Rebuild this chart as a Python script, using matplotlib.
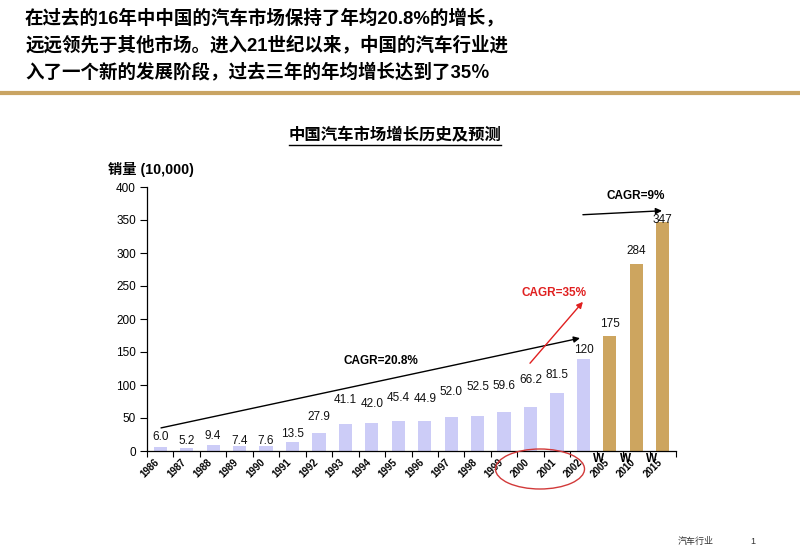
import matplotlib
matplotlib.use("Agg")
import matplotlib.pyplot as plt
from matplotlib.patches import Ellipse
from matplotlib.lines import Line2D
import matplotlib.transforms as mtransforms

# ---------------- data ----------------
years = ["1986", "1987", "1988", "1989", "1990", "1991", "1992", "1993", "1994",
         "1995", "1996", "1997", "1998", "1999", "2000", "2001", "2002",
         "2005", "2010", "2015"]
sales = [6.0, 5.2, 9.4, 7.4, 7.6, 13.5, 27.9, 41.1, 42.0, 45.4, 44.9, 52.0,
         52.5, 59.6, 66.2, 88.0, 139.0, 175, 284, 347]
value_labels = ["6.0", "5.2", "9.4", "7.4", "7.6", "13.5", "27.9", "41.1", "42.0",
                "45.4", "44.9", "52.0", "52.5", "59.6", "66.2", "81.5", "120",
                "175", "284", "347"]
is_forecast = [False] * 17 + [True] * 3
y_ticks = [0, 50, 100, 150, 200, 250, 300, 350, 400]

# label pixel positions (layout only) -> vertical pixel of label centre
label_px = [437, 441, 436, 441, 441, 434, 417, 400, 404, 398, 399, 392, 387,
            386, 380, 375, 350, 324, 251, 220]

HIST = "#CCCCF7"
FCST = "#CDA55F"
GOLD = "#C9A463"

W, H = 800, 553
fig = plt.figure(figsize=(W / 100, H / 100), dpi=100)
fig.patch.set_facecolor("white")

lat_cjk = ["Liberation Sans", "Noto Sans CJK SC"]

# ---------------- header ----------------
header = ["在过去的16年中中国的汽车市场保持了年均20.8%的增长，",
          "远远领先于其他市场。进入21世纪以来，中国的汽车行业进",
          "入了一个新的发展阶段，过去三年的年均增长达到了35％"]
for i, line in enumerate(header):
    fig.text(25 / W, 1 - (18 + i * 27) / H, line, family=lat_cjk, fontsize=13.3,
             fontweight="bold", ha="left", va="center", color="black")
fig.add_artist(Line2D([0, 1], [1 - 93 / H, 1 - 93 / H], color=GOLD, lw=3,
                      transform=fig.transFigure))

# ---------------- axes ----------------
ax = fig.add_axes([147 / W, 1 - 451 / H, (676 - 147) / W, (451 - 187) / H])
x = list(range(len(years)))
colors = [FCST if f else HIST for f in is_forecast]
ax.bar(x, sales, width=0.5, color=colors, edgecolor="none", zorder=2)
ax.set_xlim(-0.5, len(years) - 0.5)
ax.set_ylim(0, 400)
ax.set_yticks(y_ticks)
ax.set_yticklabels([str(v) for v in y_ticks], family="Liberation Sans", fontsize=8.5)
ax.tick_params(axis="y", direction="out", length=5, width=0.8, pad=3)
for s in ["top", "right"]:
    ax.spines[s].set_visible(False)
for s in ["left", "bottom"]:
    ax.spines[s].set_linewidth(0.9)

# x ticks at category boundaries, labels at centres
ax.set_xticks([i - 0.5 for i in range(len(years) + 1)])
ax.set_xticklabels([])
ax.tick_params(axis="x", direction="out", length=4, width=0.8)
ax.set_xticks(x, minor=True)
ax.set_xticklabels(years, minor=True, rotation=45, ha="right", va="top",
                   rotation_mode="anchor", family="Liberation Sans", fontsize=7,
                   fontweight="bold")
ax.tick_params(axis="x", which="minor", length=0, pad=4)
offset = mtransforms.ScaledTranslation(-6 / 100, 0, fig.dpi_scale_trans)
for lab in ax.get_xticklabels(minor=True):
    lab.set_transform(lab.get_transform() + offset)

# value labels
for xi, lab, py in zip(x, value_labels, label_px):
    ax.text(xi, (451 - py) * 400 / 264, lab, ha="center", va="center",
            family="Liberation Sans", fontsize=8.5, color="#111111", zorder=4)

# W marks under forecast bars
for xi, f in zip(x, is_forecast):
    if f:
        ax.text(xi - 0.42, -3, "W", ha="center", va="top", family="Liberation Sans",
                fontsize=8.5, fontweight="bold", clip_on=False)

# CAGR arrows
ap = dict(arrowstyle="-|>", color="black", lw=1.0, mutation_scale=9,
          shrinkA=0, shrinkB=0)
ax.annotate("", xy=(15.87, 171), xytext=(0.03, 35), arrowprops=ap, zorder=3)
ax.text(8.35, 136, "CAGR=20.8%", ha="center", va="center", family="Liberation Sans",
        fontsize=8.5, fontweight="bold")
apr = dict(ap, color="#E02020")
ax.annotate("", xy=(15.98, 226), xytext=(13.98, 133), arrowprops=apr, zorder=3)
ax.text(14.89, 239, "CAGR=35%", ha="center", va="center", family="Liberation Sans",
        fontsize=8.5, fontweight="bold", color="#E02020")
ax.annotate("", xy=(18.97, 364), xytext=(15.98, 358), arrowprops=ap, zorder=3,
            annotation_clip=False)
ax.text(17.99, 386, "CAGR=9%", ha="center", va="center", family="Liberation Sans",
        fontsize=8.5, fontweight="bold")

# red ellipse around 2000-2002 labels (figure pixels)
ell = Ellipse((540 / W, 1 - 469 / H), 89 / W, 40 / H, transform=fig.transFigure,
              fill=False, edgecolor="#D23A3A", lw=1.0)
fig.add_artist(ell)

# ---------------- titles ----------------
t = fig.text(395 / W, 1 - 135 / H, "中国汽车市场增长历史及预测", family=lat_cjk,
             fontsize=11.8, fontweight="bold", ha="center", va="center")
fig.text(108 / W, 1 - 170 / H, "销量 (10,000)", family=lat_cjk, fontsize=10.3,
         fontweight="bold", ha="left", va="center")

fig.text(678 / W, 1 - 541 / H, "汽车行业", family=lat_cjk, fontsize=6.5,
         ha="left", va="center", color="#333333")
fig.text(750 / W, 1 - 541 / H, "1", family=lat_cjk, fontsize=6.5,
         ha="left", va="center", color="#333333")

fig.canvas.draw()
bb = t.get_window_extent(fig.canvas.get_renderer())
uy = (bb.y0 - 1.5) / (H)
fig.add_artist(Line2D([bb.x0 / W, bb.x1 / W], [uy, uy], color="black", lw=1.0,
                      transform=fig.transFigure))

fig.savefig("out.png", dpi=100, facecolor="white")
